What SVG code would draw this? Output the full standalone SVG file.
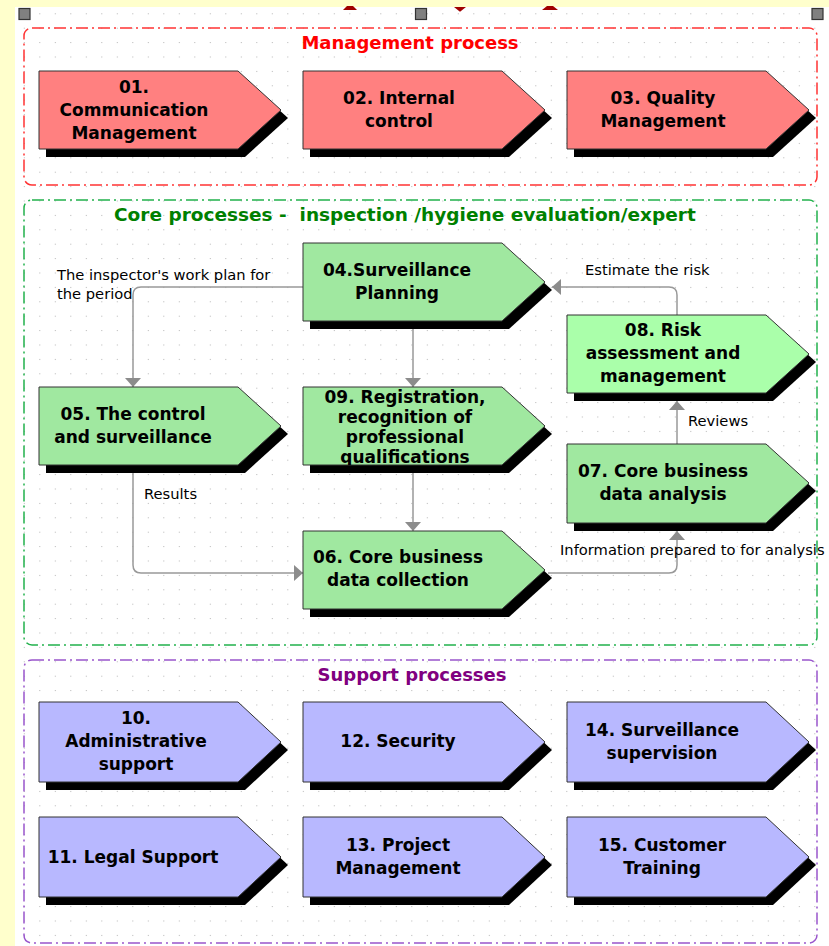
<svg xmlns="http://www.w3.org/2000/svg" width="829" height="946" viewBox="0 0 829 946">
<defs>
<pattern id="grid" x="8.3" y="-1.1" width="15.5" height="14.4" patternUnits="userSpaceOnUse">
<rect x="0" y="0" width="1" height="1" fill="#b4b4b4"/>
</pattern>
<marker id="arr" viewBox="0 0 9 16" refX="9" refY="8" markerWidth="9" markerHeight="16" markerUnits="userSpaceOnUse" orient="auto">
<path d="M0,0 L9,8 L0,16 Z" fill="#8c8c8c"/>
</marker>
<clipPath id="clip09"><path d="M303,387 H502 L545,426 L502,465 H303 Z"/></clipPath>
</defs>
<style>
.sh{fill:#000}
.red{fill:#ff8080;stroke:#333;stroke-width:1}
.grn{fill:#a0e8a0;stroke:#333;stroke-width:1}
.grn2{fill:#aaffaa;stroke:#333;stroke-width:1}
.blu{fill:#b8b8ff;stroke:#333;stroke-width:1}
.nt{font-family:"DejaVu Sans",Verdana,sans-serif;font-weight:bold;font-size:17px;fill:#000;text-anchor:middle}
.lb{font-family:"DejaVu Sans",Verdana,sans-serif;font-size:14.7px;fill:#000}
.ttl{font-family:"DejaVu Sans",Verdana,sans-serif;font-weight:bold;font-size:18px}
.box{fill:none;stroke-width:1.5;stroke-dasharray:12 4 2 4}
.con{fill:none;stroke:#999;stroke-width:1.5}
.hd{fill:#808080;stroke:#333;stroke-width:1.2}
</style>
<rect x="0" y="0" width="829" height="946" fill="#ffffcc"/>
<rect x="15" y="7" width="814" height="939" fill="#ffffff"/>
<rect x="15" y="7" width="814" height="939" fill="url(#grid)"/>
<g id="topbits" fill="#a00000">
<path d="M343,10 L357,10 L353,6 L347,6 Z"/>
<path d="M454,7 H466 L461,11 Q460,12 459,11 Z"/>
<path d="M542,10 L558,10 L553,6 L547,6 Z"/>
</g>
<g id="handles">
<rect class="hd" x="19" y="8.5" width="11" height="11"/>
<rect class="hd" x="415.5" y="8.5" width="11" height="11"/>
<rect class="hd" x="812" y="8.5" width="11" height="11"/>
</g>
<g id="management-box">
<rect class="box" x="24" y="28" width="793" height="157" rx="8" stroke="#ff3333"/>
<text class="ttl" x="410" y="49" text-anchor="middle" fill="#ff0000">Management process</text>
</g>
<g id="core-box">
<rect class="box" x="24" y="200" width="793" height="445" rx="8" stroke="#22b14c"/>
<text class="ttl" x="114" y="221" fill="#008000" style="font-size:18.5px" xml:space="preserve">Core processes -  inspection /hygiene evaluation/expert</text>
</g>
<g id="support-box">
<rect class="box" x="24" y="660" width="793" height="283" rx="8" stroke="#9955cc"/>
<text class="ttl" x="412" y="681" text-anchor="middle" fill="#800080">Support processes</text>
</g>
<g id="connectors">
<path class="con" d="M303,287 H141 Q133,287 133,295 V387" marker-end="url(#arr)"/>
<path class="con" d="M413,321 V387" marker-end="url(#arr)"/>
<path class="con" d="M413,465 V531" marker-end="url(#arr)"/>
<path class="con" d="M133,465 V565 Q133,573 141,573 H303" marker-end="url(#arr)"/>
<path class="con" d="M548,573 H669 Q677,573 677,565 V531" marker-end="url(#arr)"/>
<path class="con" d="M677,444 V401" marker-end="url(#arr)"/>
<path class="con" d="M677,315 V295 Q677,287 669,287 H552" marker-end="url(#arr)"/>
<text class="lb" x="57" y="280">The inspector's work plan for</text>
<text class="lb" x="57" y="299">the period</text>
<text class="lb" x="585" y="275">Estimate the risk</text>
<text class="lb" x="144" y="499">Results</text>
<text class="lb" x="688" y="426">Reviews</text>
<text class="lb" x="560" y="555">Information prepared to for analysis</text>
</g>
<g id="n01">
<path class="sh" d="M46,79 H245 L288,118 L245,157 H46 Z"/>
<path class="red" d="M39,71 H238 L281,110 L238,149 H39 Z"/>
<text class="nt"><tspan x="134" y="93">01.</tspan><tspan x="134" y="116">Communication</tspan><tspan x="134" y="139">Management</tspan></text>
</g>
<g id="n02">
<path class="sh" d="M310,79 H509 L552,118 L509,157 H310 Z"/>
<path class="red" d="M303,71 H502 L545,110 L502,149 H303 Z"/>
<text class="nt"><tspan x="399" y="104">02. Internal</tspan><tspan x="399" y="127">control</tspan></text>
</g>
<g id="n03">
<path class="sh" d="M574,79 H773 L816,118 L773,157 H574 Z"/>
<path class="red" d="M567,71 H766 L809,110 L766,149 H567 Z"/>
<text class="nt"><tspan x="663" y="104">03. Quality</tspan><tspan x="663" y="127">Management</tspan></text>
</g>
<g id="n04">
<path class="sh" d="M310,251 H509 L552,290 L509,329 H310 Z"/>
<path class="grn" d="M303,243 H502 L545,282 L502,321 H303 Z"/>
<text class="nt"><tspan x="397" y="276">04.Surveillance</tspan><tspan x="397" y="299">Planning</tspan></text>
</g>
<g id="n08">
<path class="sh" d="M574,323 H773 L816,362 L773,401 H574 Z"/>
<path class="grn2" d="M567,315 H766 L809,354 L766,393 H567 Z"/>
<text class="nt"><tspan x="663" y="336">08. Risk</tspan><tspan x="663" y="359">assessment and</tspan><tspan x="663" y="382">management</tspan></text>
</g>
<g id="n05">
<path class="sh" d="M46,395 H245 L288,434 L245,473 H46 Z"/>
<path class="grn" d="M39,387 H238 L281,426 L238,465 H39 Z"/>
<text class="nt"><tspan x="133" y="420">05. The control</tspan><tspan x="133" y="443">and surveillance</tspan></text>
</g>
<g id="n09">
<path class="sh" d="M310,395 H509 L552,434 L509,473 H310 Z"/>
<path class="grn" d="M303,387 H502 L545,426 L502,465 H303 Z"/>
<text class="nt" clip-path="url(#clip09)"><tspan x="405" y="403">09. Registration,</tspan><tspan x="405" y="423">recognition of</tspan><tspan x="405" y="443">professional</tspan><tspan x="405" y="463">qualifications</tspan></text>
</g>
<g id="n07">
<path class="sh" d="M574,452 H773 L816,491 L773,531 H574 Z"/>
<path class="grn" d="M567,444 H766 L809,483 L766,523 H567 Z"/>
<text class="nt"><tspan x="663" y="477">07. Core business</tspan><tspan x="663" y="500">data analysis</tspan></text>
</g>
<g id="n06">
<path class="sh" d="M310,539 H509 L552,578 L509,617 H310 Z"/>
<path class="grn" d="M303,531 H502 L545,570 L502,609 H303 Z"/>
<text class="nt"><tspan x="398" y="563">06. Core business</tspan><tspan x="398" y="586">data collection</tspan></text>
</g>
<g id="n10">
<path class="sh" d="M46,710 H245 L288,750 L245,790 H46 Z"/>
<path class="blu" d="M39,702 H238 L281,742 L238,782 H39 Z"/>
<text class="nt"><tspan x="136" y="724">10.</tspan><tspan x="136" y="747">Administrative</tspan><tspan x="136" y="770">support</tspan></text>
</g>
<g id="n12">
<path class="sh" d="M310,710 H509 L552,750 L509,790 H310 Z"/>
<path class="blu" d="M303,702 H502 L545,742 L502,782 H303 Z"/>
<text class="nt"><tspan x="398" y="747">12. Security</tspan></text>
</g>
<g id="n14">
<path class="sh" d="M574,710 H773 L816,750 L773,790 H574 Z"/>
<path class="blu" d="M567,702 H766 L809,742 L766,782 H567 Z"/>
<text class="nt"><tspan x="662" y="736">14. Surveillance</tspan><tspan x="662" y="759">supervision</tspan></text>
</g>
<g id="n11">
<path class="sh" d="M46,825 H245 L288,865 L245,905 H46 Z"/>
<path class="blu" d="M39,817 H238 L281,857 L238,897 H39 Z"/>
<text class="nt"><tspan x="133" y="863">11. Legal Support</tspan></text>
</g>
<g id="n13">
<path class="sh" d="M310,825 H509 L552,865 L509,905 H310 Z"/>
<path class="blu" d="M303,817 H502 L545,857 L502,897 H303 Z"/>
<text class="nt"><tspan x="398" y="851">13. Project</tspan><tspan x="398" y="874">Management</tspan></text>
</g>
<g id="n15">
<path class="sh" d="M574,825 H773 L816,865 L773,905 H574 Z"/>
<path class="blu" d="M567,817 H766 L809,857 L766,897 H567 Z"/>
<text class="nt"><tspan x="662" y="851">15. Customer</tspan><tspan x="662" y="874">Training</tspan></text>
</g>
</svg>
